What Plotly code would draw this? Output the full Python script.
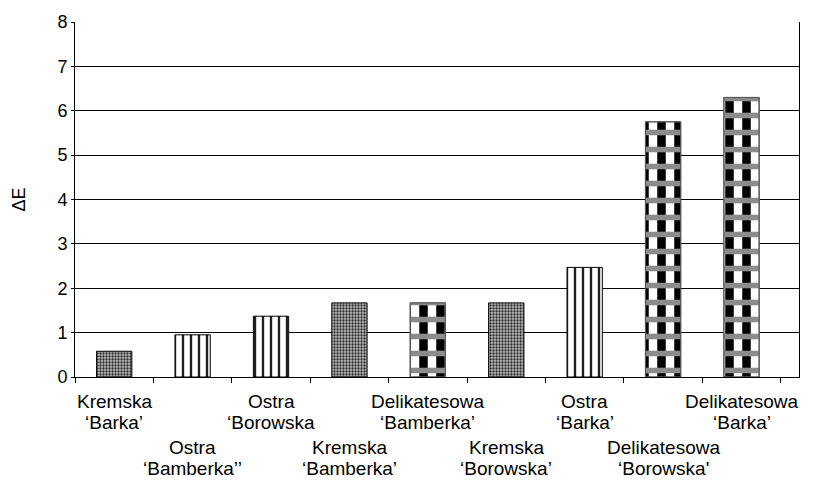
import plotly.graph_objects as go

# Sauce type and cultivar for each bar
sauce = ["Kremska", "Ostra", "Ostra", "Kremska", "Delikatesowa",
         "Kremska", "Ostra", "Delikatesowa", "Delikatesowa"]
cultivar = ["‘Barka’", "‘Bamberka’’", "‘Borowska", "‘Bamberka’", "‘Bamberka’",
            "‘Borowska’", "‘Barka’", "‘Borowska'", "‘Barka’"]
delta_e = [0.58, 0.95, 1.37, 1.67, 1.67, 1.67, 2.47, 5.75, 6.30]
fill_kind = ["dots", "stripes", "stripes", "dots", "check",
             "dots", "stripes", "check", "check"]

categories = [f"{s} {c}" for s, c in zip(sauce, cultivar)]

FONT = "Liberation Sans, Arial, sans-serif"
BAR_W = 0.45

# One layer per fill texture; the chequered bars get a second layer of grey bands
layers = [
    ("dots",    dict(shape=".", size=3,  solidity=0.45, fgcolor="#2a2a2a", bgcolor="#bcbcbc"), "#000000"),
    ("stripes", dict(shape="|", size=8,  solidity=0.3,  fgcolor="#202020", bgcolor="#ffffff"), "#000000"),
    ("check",   dict(shape="|", size=17, solidity=0.5,  fgcolor="#000000", bgcolor="#ffffff"), "#555555"),
    ("check",   dict(shape="-", size=17, solidity=0.33, fgcolor="#8c8c8c", bgcolor="rgba(0,0,0,0)"), "#555555"),
]

fig = go.Figure()
for kind, pat, edge in layers:
    fig.add_trace(go.Bar(
        x=categories,
        y=[v if k == kind else None for v, k in zip(delta_e, fill_kind)],
        width=BAR_W,
        marker=dict(
            color=pat["bgcolor"],
            line=dict(color=edge, width=1),
            pattern=dict(fillmode="replace", **pat),
        ),
        hoverinfo="x+y", showlegend=False,
    ))

# Two-row category labels below the axis
for i, (s, c) in enumerate(zip(sauce, cultivar)):
    row_shift = 0 if i % 2 == 0 else 46
    for j, line in enumerate((s, c)):
        fig.add_annotation(
            x=categories[i], xref="x", y=0, yref="paper",
            text=line, showarrow=False, yanchor="top",
            yshift=-13 - row_shift - 21 * j, borderpad=0,
            font=dict(family=FONT, size=19, color="#000000"),
        )

fig.update_layout(
    width=821, height=484,
    margin=dict(l=75, r=22, t=16, b=107),
    paper_bgcolor="#ffffff", plot_bgcolor="#ffffff",
    barmode="overlay",
    font=dict(family=FONT, size=18, color="#000000"),
)
fig.update_xaxes(
    showticklabels=False, ticks="outside", ticklen=5, tickcolor="#000000",
    tickson="boundaries", showline=True, linecolor="#000000", linewidth=1,
    showgrid=False,
)
fig.update_yaxes(
    range=[0, 8], dtick=1, showgrid=True, gridcolor="#000000", gridwidth=1,
    ticks="outside", ticklen=3, tickcolor="#000000",
    showline=True, linecolor="#000000", linewidth=1, mirror=True,
    zeroline=False,
    tickfont=dict(family=FONT, size=18, color="#000000"),
    title=dict(text="ΔE", standoff=27,
               font=dict(family=FONT, size=18, color="#000000")),
)

fig.write_html("out.html")
